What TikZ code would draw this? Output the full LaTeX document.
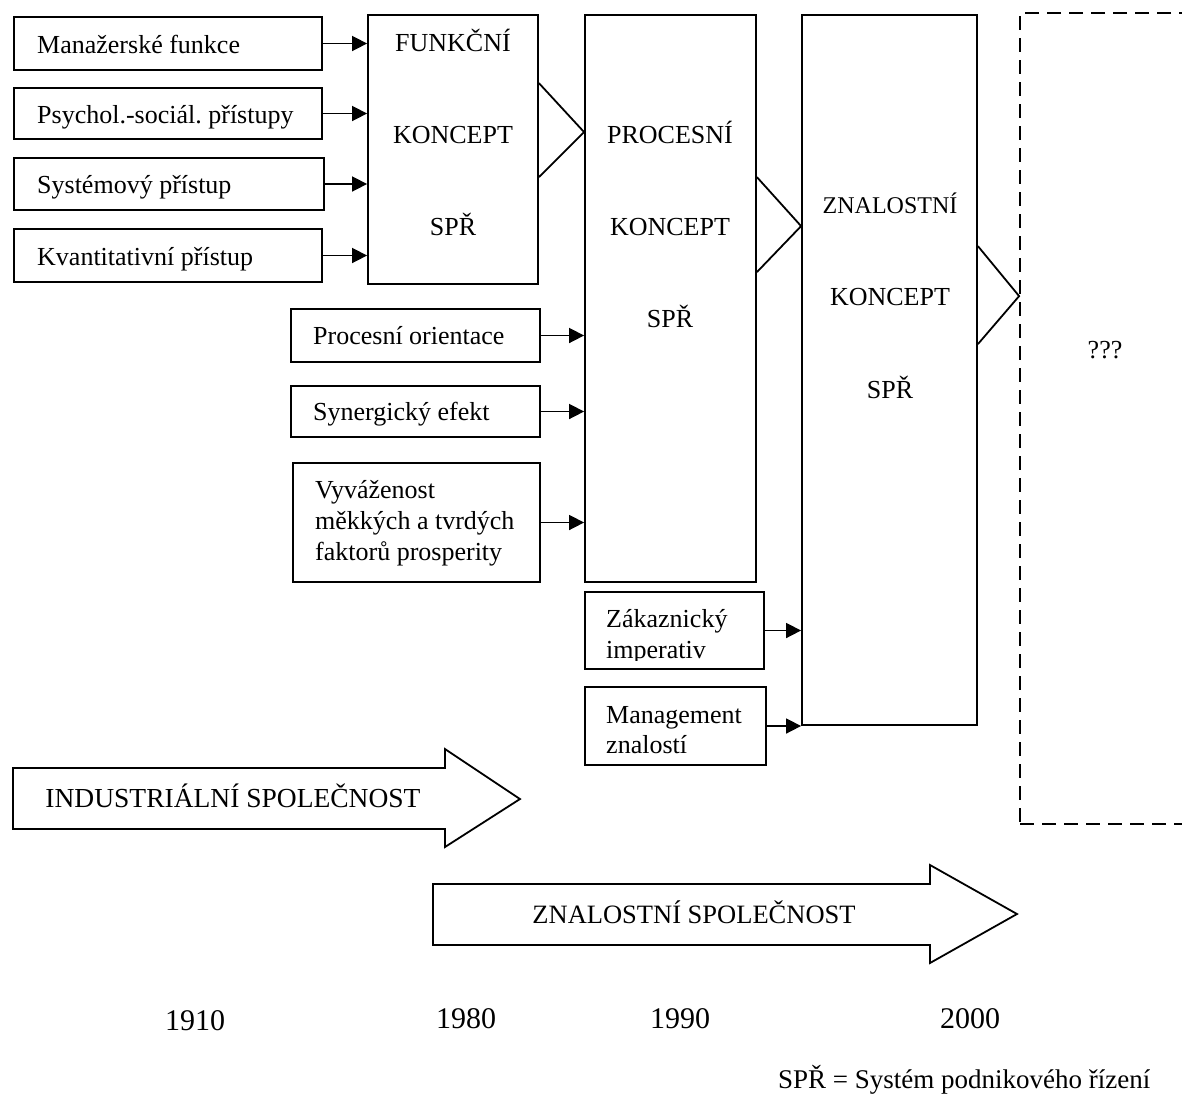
\documentclass[tikz,border=0pt]{standalone}
\usepackage{fontspec}
\setmainfont{Liberation Serif}
\usetikzlibrary{arrows.meta,calc}
\frenchspacing
\begin{document}
\begin{tikzpicture}[x=1pt,y=-1pt,
  every node/.style={font=\fontsize{26}{31}\selectfont},
  box/.style={draw, line width=1.8pt, inner sep=0pt},
  txt/.style={inner sep=0pt, anchor=base west},
  ctxt/.style={inner sep=0pt, anchor=base},
  feed/.style={line width=1.6pt, -{Triangle[length=15pt,width=15pt]}},
  chev/.style={line width=1.8pt},
  bigarrow/.style={draw, line width=1.8pt, fill=white},
  year/.style={inner sep=0pt, anchor=base, font=\fontsize{30}{36}\selectfont},
]
\clip (0,0) rectangle (1182,1093);
\fill[white] (0,0) rectangle (1182,1093);

% --- concept columns ---
\node[box, minimum width=170pt, minimum height=269pt] (funk) at (453,149.5) {};
\node[box, minimum width=171pt, minimum height=567pt] (proc) at (670.5,298.5) {};
\node[box, minimum width=175pt, minimum height=710pt] (znal) at (889.5,370) {};
\node[draw, line width=1.8pt, dash pattern=on 14pt off 8pt, inner sep=0pt,
      minimum width=220pt, minimum height=811pt] (next) at (1130,418.5) {};

\node[ctxt] (funk1) at (453,51) {FUNKČNÍ};
\node[ctxt] (funk2) at (453,143) {KONCEPT};
\node[ctxt] (funk3) at (453,235) {SPŘ};

\node[ctxt] (proc1) at (670,143) {PROCESNÍ};
\node[ctxt] (proc2) at (670,235) {KONCEPT};
\node[ctxt] (proc3) at (670,327) {SPŘ};

\node[ctxt, font=\fontsize{24}{29}\selectfont] (znal1) at (890,213) {ZNALOSTNÍ};
\node[ctxt] (znal2) at (890,305) {KONCEPT};
\node[ctxt] (znal3) at (890,398) {SPŘ};

\node[ctxt] (nextq) at (1105,358) {???};

% --- chevrons between the columns ---
\draw[chev] ($(funk.north east)+(0,69)$) -- ($(proc.north west)+(0,118)$) -- ($(funk.north east)+(0,163)$);
\draw[chev] ($(proc.north east)+(0,163)$) -- ($(znal.north west)+(0,212)$) -- ($(proc.north east)+(0,258)$);
\draw[chev] ($(znal.north east)+(0,232)$) -- ($(next.north west)+(0,284)$) -- ($(znal.north east)+(0,330)$);

% --- inputs of the functional concept ---
\node[box, minimum width=308pt, minimum height=53pt] (m1) at (168,43.5) {};
\node[box, minimum width=308pt, minimum height=51pt] (m2) at (168,113.5) {};
\node[box, minimum width=310pt, minimum height=52pt] (m3) at (169,184) {};
\node[box, minimum width=308pt, minimum height=53pt] (m4) at (168,255.5) {};
\node[txt] (m1t) at (37,53) {Manažerské funkce};
\node[txt] (m2t) at (37,123) {Psychol.-sociál. přístupy};
\node[txt] (m3t) at (37,193) {Systémový přístup};
\node[txt] (m4t) at (37,265) {Kvantitativní přístup};
\draw[feed] (m1.east) -- (m1.east -| funk.west);
\draw[feed] (m2.east) -- (m2.east -| funk.west);
\draw[feed] (m3.east) -- (m3.east -| funk.west);
\draw[feed] (m4.east) -- (m4.east -| funk.west);

% --- inputs of the process concept ---
\node[box, minimum width=249pt, minimum height=53pt] (p1) at (415.5,335.5) {};
\node[box, minimum width=249pt, minimum height=51pt] (p2) at (415.5,411.5) {};
\node[box, minimum width=247pt, minimum height=119pt] (p3) at (416.5,522.5) {};
\node[txt] (p1t) at (313,344) {Procesní orientace};
\node[txt] (p2t) at (313,420) {Synergický efekt};
\node[txt] (p3a) at (315,498) {Vyváženost};
\node[txt] (p3b) at (315,529) {měkkých a tvrdých};
\node[txt] (p3c) at (315,560) {faktorů prosperity};
\draw[feed] (p1.east) -- (p1.east -| proc.west);
\draw[feed] (p2.east) -- (p2.east -| proc.west);
\draw[feed] (p3.east) -- (p3.east -| proc.west);

% --- inputs of the knowledge concept ---
\node[box, minimum width=179pt, minimum height=77pt] (k1) at (674.5,630.5) {};
\node[box, minimum width=181pt, minimum height=78pt] (k2) at (675.5,726) {};
\node[txt] (k1a) at (606,627) {Zákaznický};
\begin{scope}
  \clip (586,593) rectangle (763,660);
  \node[txt] (k1b) at (606,658) {imperativ};
\end{scope}
\node[txt] (k2a) at (606,723) {Management};
\node[txt] (k2b) at (606,753) {znalostí};
\draw[feed] (k1.east) -- (k1.east -| znal.west);
\draw[feed] (k2.east) -- (k2.east -| znal.west);

% --- eras ---
\draw[bigarrow] (13,768) -- (445,768) -- (445,749) -- (520,799) -- (445,847) -- (445,829) -- (13,829) -- cycle;
\node[ctxt, font=\fontsize{27.5}{33}\selectfont] (ind) at (233,807) {INDUSTRIÁLNÍ SPOLEČNOST};
\draw[bigarrow] (433,884) -- (930,884) -- (930,865) -- (1017,914) -- (930,963) -- (930,945) -- (433,945) -- cycle;
\node[ctxt, font=\fontsize{26.5}{32}\selectfont] (kno) at (694,923) {ZNALOSTNÍ SPOLEČNOST};

% --- time axis ---
\node[year] (y1910) at (195,1030) {1910};
\node[year] (y1980) at (466,1028) {1980};
\node[year] (y1990) at (680,1028) {1990};
\node[year] (y2000) at (970,1028) {2000};

\node[txt, font=\fontsize{27}{32}\selectfont] (legend) at (778,1088) {SPŘ = Systém podnikového řízení};
\end{tikzpicture}
\end{document}
